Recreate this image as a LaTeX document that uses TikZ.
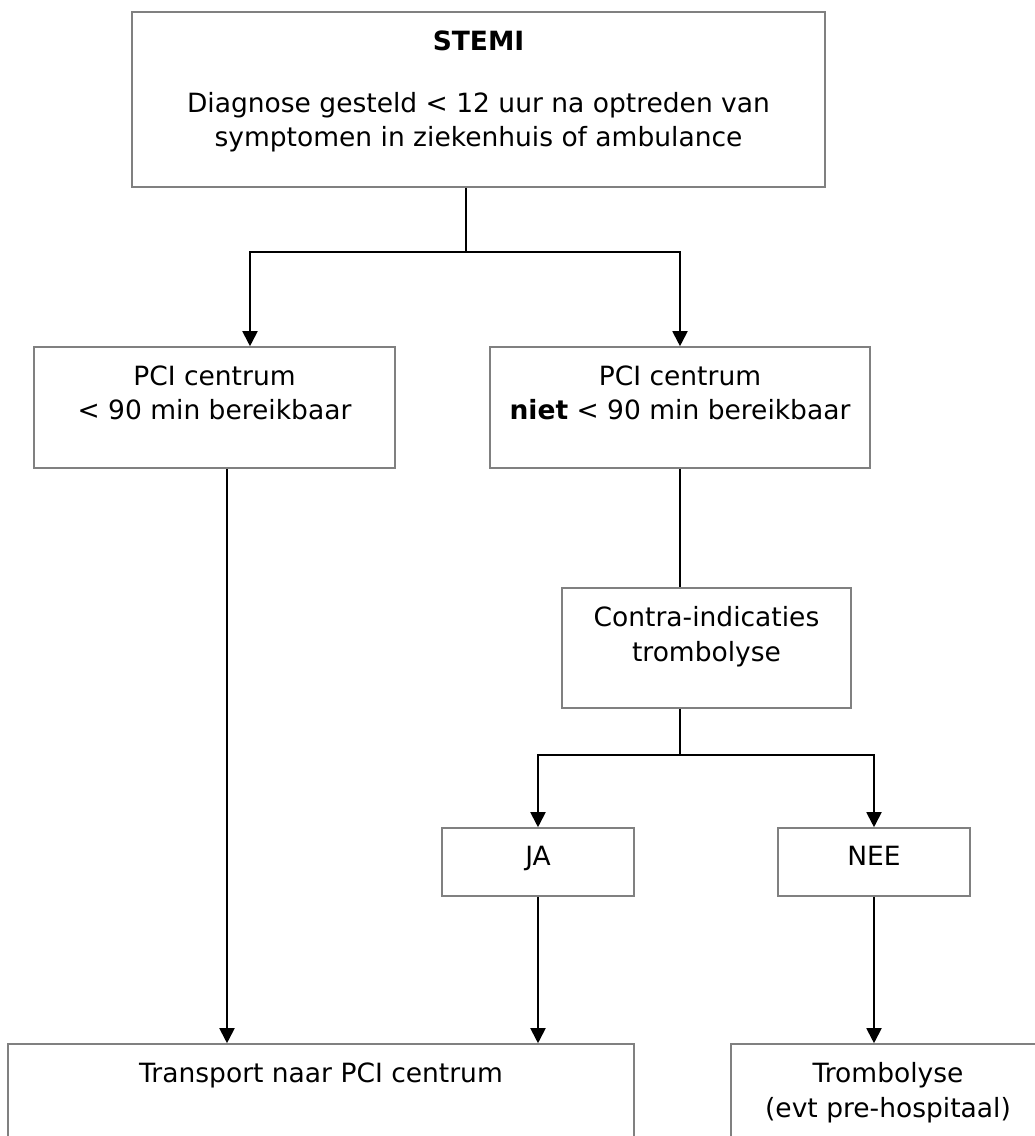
\documentclass[tikz,border=0pt]{standalone}
\usepackage{fontspec}
\setmainfont{DejaVu Sans}
\usetikzlibrary{arrows.meta, positioning}
\definecolor{boxgray}{RGB}{128, 128, 128}

\begin{document}
\begin{tikzpicture}[
    x=1pt, y=-1pt,
    >={Triangle[length=15pt, width=15pt]},
    box/.style={rectangle, draw=boxgray, line width=1.6pt, inner sep=0pt},
    txt/.style={align=center, inner sep=0pt, font=\fontsize{26.5}{34.5}\selectfont},
    line/.style={line width=1.9pt},
    arrow/.style={->, line width=1.9pt}
]
\clip (0, 0) rectangle (1035, 1136);

% STEMI
\node[box, minimum width=693, minimum height=175] (stemi) at (478.5, 99.5) {};
\node[txt, below=19pt of stemi.north] (stemi_t) {\textbf{STEMI}\\[27.5pt]Diagnose gesteld < 12 uur na optreden van\\symptomen in ziekenhuis of ambulance};

% PCI centrum
\node[box, minimum width=361, minimum height=121] (near) at (214.5, 407.5) {};
\node[txt, below=19pt of near.north] (near_t) {PCI centrum\\< 90 min bereikbaar};
\node[box, minimum width=380, minimum height=121] (far) at (680, 407.5) {};
\node[txt, below=19pt of far.north] (far_t) {PCI centrum\\\textbf{niet} < 90 min bereikbaar};

% Contra-indicaties
\node[box, minimum width=289, minimum height=120] (contra) at (706.5, 648) {};
\node[txt, below=19pt of contra.north] (contra_t) {Contra-indicaties\\trombolyse};

% JA / NEE
\node[box, minimum width=192, minimum height=68] (ja) at (538, 862) {};
\node[txt, below=19pt of ja.north] (ja_t) {JA};
\node[box, minimum width=192, minimum height=68] (nee) at (874, 862) {};
\node[txt, below=19pt of nee.north] (nee_t) {NEE};

% Uitkomst
\node[box, minimum width=626, minimum height=126] (transport) at (321, 1107) {};
\node[txt, below=19pt of transport.north] (transport_t) {Transport naar PCI centrum};
\node[box, minimum width=314, minimum height=126] (tromb) at (888, 1107) {};
\node[txt, below=19pt of tromb.north] (tromb_t) {Trombolyse\\(evt pre-hospitaal)};

% Splitsingen
\coordinate (split1) at (466, 252);
\coordinate (split2) at (680, 755);

% Pijlen
\draw[line] (split1 |- stemi.south) -- (split1);
\draw[arrow] (split1) -| ([xshift=35.5pt]near.north);
\draw[arrow] (split1) -| (far.north);
\draw[line] (far.south) -- (far.south |- contra.north);
\draw[line] (split2 |- contra.south) -- (split2);
\draw[arrow] (split2) -| (ja.north);
\draw[arrow] (split2) -| (nee.north);
\draw[arrow] ([xshift=12.5pt]near.south) -- ([xshift=12.5pt]near.south |- transport.north);
\draw[arrow] (ja.south) -- (ja.south |- transport.north);
\draw[arrow] (nee.south) -- (nee.south |- tromb.north);

\end{tikzpicture}
\end{document}
